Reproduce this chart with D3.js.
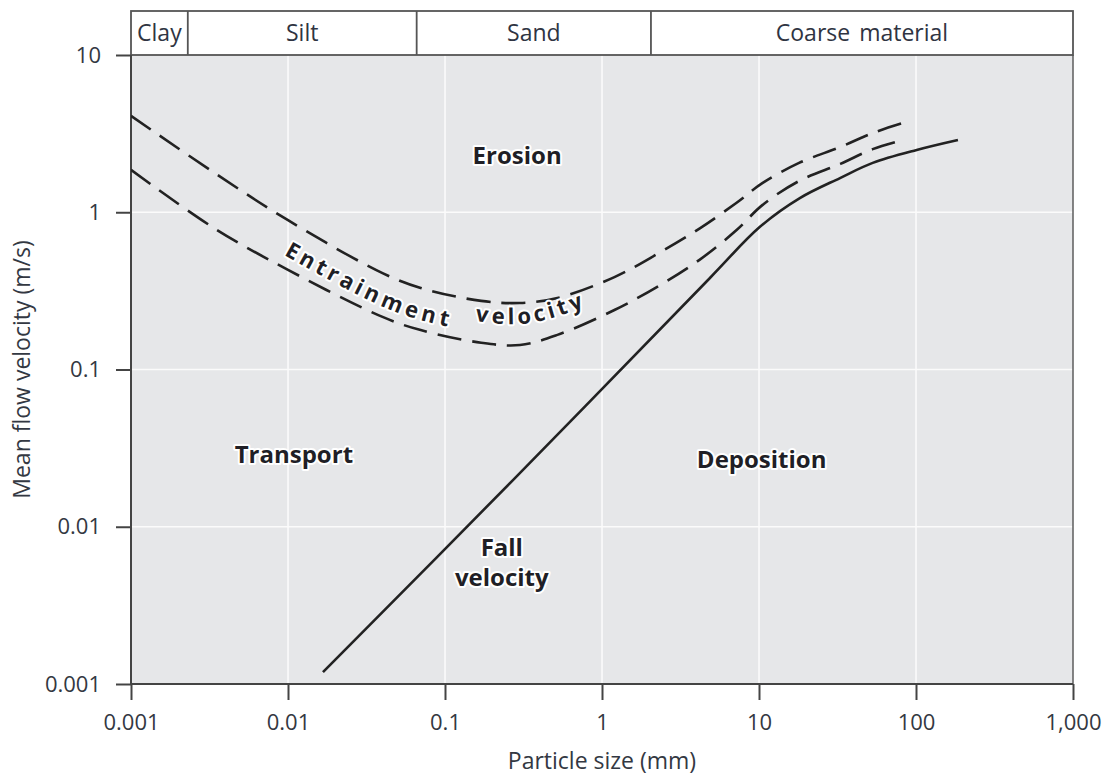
<!DOCTYPE html>
<html>
<head>
<meta charset="utf-8">
<title>Particle size vs flow velocity</title>
<script src="https://d3js.org/d3.v7.min.js"></script>
<style>
  body, html { margin: 0; padding: 0; background: #fff; }
  svg { display: block; font-family: "Open Sans", "DejaVu Sans", sans-serif; }
  .tick text { fill: #333842; font-size: 22px; }
  .halo { paint-order: stroke; stroke: #fff; stroke-width: 4px; stroke-linejoin: round; }
</style>
</head>
<body>
<div id="chart"></div>
<script>
// ---- data ----
var sizeTicks = [0.001, 0.01, 0.1, 1, 10, 100, 1000];
var sizeTickLabels = ["0.001", "0.01", "0.1", "1", "10", "100", "1,000"];
var velTicks = [0.001, 0.01, 0.1, 1, 10];
var velTickLabels = ["0.001", "0.01", "0.1", "1", "10"];

var classBounds = [0.001, 0.0023, 0.066, 2.05, 1000];
var classNames = ["Clay", "Silt", "Sand", "Coarse material"];

// entrainment velocity band (two dashed curves)
var entrainSize  = [0.001, 0.0034, 0.01, 0.04, 0.07, 0.17, 0.3, 0.52, 1.2, 2.3, 4.2, 7.2, 10.5, 18, 33, 53, 83];
var entrainUpper = [4.1, 1.78, 0.89, 0.41, 0.33, 0.273, 0.265, 0.285, 0.387, 0.55, 0.79, 1.15, 1.53, 2.06, 2.6, 3.19, 3.7];
var entrainLower = [1.86, 0.79, 0.43, 0.216, 0.178, 0.148, 0.143, 0.166, 0.239, 0.34, 0.5, 0.77, 1.11, 1.58, 2.03, 2.52, 2.88];

// fall velocity (solid)
var fallSize = [0.0167, 0.271, 4.87, 10.1, 18.2, 32.8, 53, 101, 185];
var fallVel  = [0.00119, 0.0198, 0.382, 0.805, 1.23, 1.65, 2.06, 2.49, 2.88];

var regionLabels = [
  {text: ["Erosion"], d: 0.288, v: 2.31},
  {text: ["Transport"], d: 0.0109, v: 0.029},
  {text: ["Deposition"], d: 10.4, v: 0.027},
  {text: ["Fall", "velocity"], d: 0.23, v: 0.0059}
];

// ---- layout ----
var W = 1108, H = 775;
var mLeft = 131, mRight = 1073, mTop = 55, mBottom = 684, bandTop = 11;

var svg = d3.select("#chart").append("svg")
    .attr("width", W).attr("height", H);

var x = d3.scaleLog().domain([0.001, 1000]).range([mLeft, mRight]);
var y = d3.scaleLog().domain([0.001, 10]).range([mBottom, mTop]);

// plot background
svg.append("rect")
    .attr("x", mLeft).attr("y", mTop)
    .attr("width", mRight - mLeft).attr("height", mBottom - mTop)
    .attr("fill", "#e6e7e9");

// grid
svg.append("g").selectAll("line").data(sizeTicks.slice(1, -1)).join("line")
    .attr("x1", d => x(d)).attr("x2", d => x(d))
    .attr("y1", mTop).attr("y2", mBottom)
    .attr("stroke", "#fbfbfb").attr("stroke-width", 1.6);
svg.append("g").selectAll("line").data(velTicks.slice(1, -1)).join("line")
    .attr("x1", mLeft).attr("x2", mRight)
    .attr("y1", d => y(d)).attr("y2", d => y(d))
    .attr("stroke", "#fbfbfb").attr("stroke-width", 1.6);

// right border
svg.append("line")
    .attr("x1", mRight).attr("x2", mRight).attr("y1", mTop).attr("y2", mBottom)
    .attr("stroke", "#666").attr("stroke-width", 1.6);

// size class band
var band = svg.append("g");
band.append("rect")
    .attr("x", mLeft).attr("y", bandTop)
    .attr("width", mRight - mLeft).attr("height", mTop - bandTop)
    .attr("fill", "#fff").attr("stroke", "#555").attr("stroke-width", 1.8);
band.selectAll("line").data(classBounds.slice(1, -1)).join("line")
    .attr("x1", d => x(d)).attr("x2", d => x(d))
    .attr("y1", bandTop).attr("y2", mTop)
    .attr("stroke", "#555").attr("stroke-width", 1.8);
band.selectAll("text").data(classNames).join("text")
    .attr("x", (d, i) => (x(classBounds[i]) + x(classBounds[i + 1])) / 2)
    .attr("y", 41)
    .attr("text-anchor", "middle")
    .attr("fill", "#2f3442")
    .attr("font-size", 23)
    .attr("word-spacing", 3)
    .text(d => d);

// axes
var xAxis = d3.axisBottom(x).tickValues(sizeTicks)
    .tickFormat((d, i) => sizeTickLabels[i]).tickSize(16).tickPadding(14);
var yAxis = d3.axisLeft(y).tickValues(velTicks)
    .tickFormat((d, i) => velTickLabels[i]).tickSize(15).tickPadding(15);

var gx = svg.append("g").attr("transform", "translate(0," + mBottom + ")").call(xAxis);
var gy = svg.append("g").attr("transform", "translate(" + mLeft + ",0)").call(yAxis);
[gx, gy].forEach(function(g) {
  g.select(".domain").attr("stroke", "#444").attr("stroke-width", 2);
  g.selectAll(".tick line").attr("stroke", "#444").attr("stroke-width", 2);
  g.selectAll(".tick text").attr("font-family", "'Open Sans', sans-serif");
});
gy.select(".domain").attr("d", "M0," + mTop + "V" + mBottom);
gx.select(".domain").attr("d", "M" + mLeft + ",0H" + mRight);

svg.append("text")
    .attr("x", x(1)).attr("y", 769)
    .attr("text-anchor", "middle")
    .attr("fill", "#333842").attr("font-size", 23)
    .text("Particle size (mm)");
svg.append("text")
    .attr("transform", "translate(30," + ((mTop + mBottom) / 2) + ") rotate(-90)")
    .attr("text-anchor", "middle")
    .attr("fill", "#333842").attr("font-size", 23)
    .text("Mean flow velocity (m/s)");

// curves
var line = d3.line()
    .x(d => x(d[0])).y(d => y(d[1]))
    .curve(d3.curveCatmullRom.alpha(0.5));

var upperPts = entrainSize.map((d, i) => [d, entrainUpper[i]]);
var lowerPts = entrainSize.map((d, i) => [d, entrainLower[i]]);
var midPts = entrainSize.map((d, i) => [d, Math.sqrt(entrainUpper[i] * entrainLower[i])]);
var fallPts = fallSize.map((d, i) => [d, fallVel[i]]);

svg.append("clipPath").attr("id", "plotclip")
  .append("rect").attr("x", mLeft).attr("y", mTop)
  .attr("width", mRight - mLeft).attr("height", mBottom - mTop);

var curves = svg.append("g").attr("clip-path", "url(#plotclip)");
[upperPts, lowerPts].forEach(function(pts) {
  curves.append("path")
      .attr("d", line(pts))
      .attr("fill", "none")
      .attr("stroke", "#222")
      .attr("stroke-width", 2.6)
      .attr("stroke-dasharray", "24,11");
});
curves.append("path")
    .attr("d", line(fallPts))
    .attr("fill", "none")
    .attr("stroke", "#222")
    .attr("stroke-width", 2.6);

// path for the curved label
var midPath = svg.append("defs").append("path")
    .attr("id", "midpath")
    .attr("d", line(midPts));

function offsetAtX(px) {
  var node = midPath.node(), lo = 0, hi = node.getTotalLength();
  for (var k = 0; k < 40; k++) {
    var m = (lo + hi) / 2;
    if (node.getPointAtLength(m).x < px) lo = m; else hi = m;
  }
  return lo;
}

var curvedWords = [{text: "Entrainment", px: 289}, {text: "velocity", px: 475}];
var ct = svg.append("text")
    .attr("class", "halo")
    .attr("font-size", 22)
    .attr("font-weight", "bold")
    .attr("letter-spacing", 3.7)
    .attr("fill", "#1f1f26")
    .attr("dy", "0.48em");
curvedWords.forEach(function(w) {
  ct.append("textPath")
      .attr("href", "#midpath")
      .attr("startOffset", offsetAtX(w.px))
      .text(w.text);
});

// region labels
regionLabels.forEach(function(r) {
  var t = svg.append("text")
      .attr("class", "halo")
      .attr("text-anchor", "middle")
      .attr("font-size", 24)
      .attr("font-weight", "bold")
      .attr("fill", "#1f1f26");
  var n = r.text.length;
  r.text.forEach(function(s, i) {
    t.append("tspan")
        .attr("x", x(r.d))
        .attr("y", y(r.v) + (i - (n - 1) / 2) * 30)
        .attr("dy", "0.36em")
        .text(s);
  });
});
</script>
</body>
</html>
